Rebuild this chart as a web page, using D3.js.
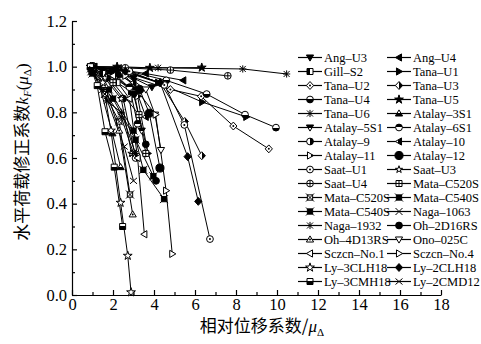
<!DOCTYPE html>
<html>
<head>
<meta charset="utf-8">
<script src="https://cdn.jsdelivr.net/npm/d3@7"></script>
<style>
  body { margin: 0; background: #fff; }
  svg { display: block; }
  .axis path, .axis line { stroke: #000; stroke-width: 1.2; }
  .axis text { font-family: 'Liberation Serif', 'Times New Roman', serif; font-size: 16.5px; fill: #000; }
  .legend text { font-family: 'Liberation Serif', 'Times New Roman', serif; font-size: 12.5px; fill: #000; }
  .cjk { font-family: 'Noto Sans CJK SC', serif; }
</style>
</head>
<body>
<script>
const WIDTH = 481;
const HEIGHT = 344;
const PLOT = { left: 72, right: 441, top: 21, bottom: 295 };

const xTicks = [0, 2, 4, 6, 8, 10, 12, 14, 16, 18];
const yTicks = [0, 0.2, 0.4, 0.6, 0.8, 1.0, 1.2];

// series names in legend order
const names = [
  'Ang-U3', 'Ang-U4', 'Gill-S2', 'Tana-U1', 'Tana-U2', 'Tana-U3', 'Tana-U4', 'Tana-U5',
  'Tana-U6', 'Atalay-3S1', 'Atalay-5S1', 'Atalay-6S1', 'Atalay-9', 'Atalay-10', 'Atalay-11',
  'Atalay-12', 'Saat-U1', 'Saat-U3', 'Saat-U4', 'Mata-C520S', 'Mata-C520S', 'Mata-C540S',
  'Mata-C540S', 'Naga-1063', 'Naga-1932', 'Oh-2D16RS', 'Oh-4D13RS', 'Ono-025C',
  'Sczcn-No.1', 'Sczcn-No.4', 'Ly-3CLH18', 'Ly-2CLH18', 'Ly-3CMH18', 'Ly-2CMD12'
];

// marker per series: [shape, fill]
const markers = [
  ['triD', 'full'], ['triL', 'full'], ['square', 'halfL'], ['triR', 'full'], ['diamond', 'dot'],
  ['diamond', 'halfR'], ['circle', 'halfB'], ['star', 'full'], ['burst', 'none'], ['triU', 'halfB'],
  ['triD', 'halfT'], ['circle', 'halfT'], ['circle', 'halfR'], ['triL', 'halfR'], ['triR', 'halfR'],
  ['bigcircle', 'full'], ['circle', 'dot'], ['smallstar', 'none'], ['circle', 'plus'], ['square', 'cross'],
  ['xbox', 'none'], ['xbox', 'full'], ['xbox', 'full'], ['xbar', 'none'], ['asterisk', 'none'],
  ['circle', 'full'], ['triU', 'dot'], ['triD', 'none'], ['triL', 'none'], ['triR', 'none'],
  ['star', 'none'], ['diamond', 'full'], ['square', 'halfB'], ['x', 'none']
];

// x = displacement ratio, y = load correction factor
const values = [
  [[0.95, 1.0], [2.0, 0.98], [3.0, 0.95], [3.9, 0.91]],
  [[1.0, 1.0], [2.1, 0.99], [3.6, 0.97], [5.43, 0.94]],
  [[0.9, 1.0], [1.5, 0.97], [2.2, 0.93], [2.9, 0.89]],
  [[1.0, 1.0], [2.5, 0.98], [4.2, 0.93], [6.35, 0.845], [8.5, 0.78]],
  [[1.0, 1.0], [2.4, 0.97], [4.8, 0.9], [6.3, 0.87], [7.87, 0.74], [9.6, 0.64]],
  [[1.0, 1.0], [2.6, 0.98], [4.3, 0.93], [5.5, 0.76], [6.33, 0.61]],
  [[1.0, 1.0], [2.8, 0.98], [4.6, 0.94], [6.57, 0.88], [8.44, 0.79], [9.95, 0.733]],
  [[1.0, 1.0], [2.2, 1.0], [3.8, 0.995], [6.33, 0.996]],
  [[1.0, 1.0], [2.4, 0.995], [4.2, 0.995], [8.33, 0.99], [10.47, 0.968]],
  [[0.9, 1.0], [1.3, 0.93], [1.97, 0.708], [2.37, 0.56]],
  [[1.0, 0.99], [1.8, 0.96], [3.0, 0.9], [3.4, 0.72]],
  [[1.0, 1.0], [1.9, 0.97], [2.8, 0.91], [3.2, 0.75]],
  [[1.0, 0.99], [1.7, 0.95], [2.5, 0.86], [3.1, 0.6]],
  [[1.1, 1.0], [2.1, 0.97], [3.0, 0.93], [3.6, 0.78]],
  [[1.0, 1.0], [2.2, 0.96], [3.2, 0.87], [3.7, 0.62]],
  [[1.0, 1.0], [2.3, 0.97], [3.3, 0.9], [3.77, 0.796], [4.29, 0.556]],
  [[1.0, 1.0], [2.8, 0.98], [4.5, 0.92], [5.48, 0.745], [6.73, 0.245]],
  [[0.9, 0.99], [1.6, 0.95], [2.4, 0.86], [2.9, 0.62]],
  [[1.0, 1.0], [2.6, 0.995], [4.8, 0.985], [7.6, 0.96]],
  [[1.0, 0.99], [2.0, 0.93], [3.27, 0.79], [3.6, 0.62]],
  [[0.95, 0.98], [1.6, 0.88], [2.3, 0.76], [2.83, 0.44]],
  [[1.0, 0.98], [1.8, 0.9], [3.0, 0.72], [3.48, 0.548], [4.49, 0.42]],
  [[1.0, 0.97], [2.0, 0.86], [3.1, 0.68], [3.97, 0.52]],
  [[0.9, 0.99], [1.5, 0.9], [2.4, 0.78], [3.0, 0.62]],
  [[1.0, 0.98], [1.7, 0.85], [2.4, 0.8], [3.1, 0.62]],
  [[1.0, 1.0], [2.0, 0.97], [3.0, 0.88], [3.6, 0.66], [4.1, 0.5]],
  [[1.0, 1.0], [1.6, 0.92], [2.3, 0.72], [2.96, 0.353]],
  [[1.0, 1.0], [2.5, 0.97], [3.6, 0.9], [4.05, 0.79], [4.34, 0.635]],
  [[1.0, 1.0], [2.0, 0.96], [2.8, 0.86], [3.2, 0.6], [3.53, 0.266]],
  [[1.0, 1.0], [2.6, 0.96], [4.08, 0.79], [4.59, 0.457], [4.89, 0.18]],
  [[0.9, 1.0], [1.5, 0.93], [1.9, 0.72], [2.37, 0.404], [2.72, 0.172], [2.88, 0.012]],
  [[1.0, 1.0], [2.6, 0.98], [4.3, 0.93], [5.64, 0.606], [6.16, 0.41]],
  [[0.9, 1.0], [1.23, 0.917], [1.61, 0.715], [2.06, 0.56], [2.47, 0.3]],
  [[1.0, 0.99], [1.6, 0.88], [2.55, 0.65], [3.0, 0.5]]
];

const svg = d3.select('body').append('svg')
  .attr('width', WIDTH).attr('height', HEIGHT);
svg.append('rect').attr('width', WIDTH).attr('height', HEIGHT).attr('fill', '#fff');

// hard-stop gradients for half filled markers
const defs = svg.append('defs');
[['halfL', 0, 0, 1, 0], ['halfR', 1, 0, 0, 0], ['halfT', 0, 0, 0, 1], ['halfB', 0, 1, 0, 0]]
  .forEach(([id, x1, y1, x2, y2]) => {
    const g = defs.append('linearGradient').attr('id', id)
      .attr('x1', x1).attr('y1', y1).attr('x2', x2).attr('y2', y2);
    g.append('stop').attr('offset', '50%').attr('stop-color', '#000');
    g.append('stop').attr('offset', '50%').attr('stop-color', '#fff');
  });

const x = d3.scaleLinear().domain([0, 18]).range([PLOT.left, PLOT.right]);
const y = d3.scaleLinear().domain([0, 1.2]).range([PLOT.bottom, PLOT.top]);

// minor ticks
svg.append('g').attr('class', 'axis')
  .attr('transform', 'translate(0,' + PLOT.bottom + ')')
  .call(d3.axisBottom(x).tickValues(d3.range(1, 18, 2)).tickSize(-3).tickFormat(''))
  .select('.domain').remove();
svg.append('g').attr('class', 'axis')
  .attr('transform', 'translate(' + PLOT.left + ',0)')
  .call(d3.axisLeft(y).tickValues(d3.range(0.1, 1.2, 0.2)).tickSize(-3).tickFormat(''))
  .select('.domain').remove();

// main axes
svg.append('g').attr('class', 'axis')
  .attr('transform', 'translate(0,' + PLOT.bottom + ')')
  .call(d3.axisBottom(x).tickValues(xTicks).tickSizeInner(-5).tickSizeOuter(0).tickPadding(3).tickFormat(d3.format('d')));
svg.append('g').attr('class', 'axis')
  .attr('transform', 'translate(' + PLOT.left + ',0)')
  .call(d3.axisLeft(y).tickValues(yTicks).tickSizeInner(-5).tickSizeOuter(0).tickPadding(5).tickFormat(d3.format('.1f')));

function markerPath(shape) {
  const r = 3.6;
  switch (shape) {
    case 'triD': return 'M' + -r + ',' + -r * 0.7 + 'L' + r + ',' + -r * 0.7 + 'L0,' + r + 'Z';
    case 'triU': return 'M' + -r + ',' + r * 0.7 + 'L' + r + ',' + r * 0.7 + 'L0,' + -r + 'Z';
    case 'triL': return 'M' + r * 0.7 + ',' + -r + 'L' + r * 0.7 + ',' + r + 'L' + -r + ',0Z';
    case 'triR': return 'M' + -r * 0.7 + ',' + -r + 'L' + -r * 0.7 + ',' + r + 'L' + r + ',0Z';
    case 'square': return d3.symbol(d3.symbolSquare, 36)();
    case 'diamond': return 'M0,' + -r * 1.1 + 'L' + r + ',0L0,' + r * 1.1 + 'L' + -r + ',0Z';
    case 'circle': return d3.symbol(d3.symbolCircle, 36)();
    case 'bigcircle': return d3.symbol(d3.symbolCircle, 52)();
    case 'star': return d3.symbol(d3.symbolStar, 24)();
    case 'smallstar': return d3.symbol(d3.symbolStar, 16)();
    case 'xbox': return d3.symbol(d3.symbolSquare, 28)();
    default: return null;
  }
}

function drawMarker(g, shape, fill) {
  const r = 3.6;
  const line = (d) => g.append('path').attr('d', d).attr('stroke', '#000').attr('stroke-width', 1).attr('fill', 'none');
  if (shape === 'burst' || shape === 'asterisk') {
    line('M' + -r + ',0L' + r + ',0M0,' + -r + 'L0,' + r + 'M-3,-3L3,3M-3,3L3,-3');
    return;
  }
  if (shape === 'x') {
    line('M-3.5,-3L3.5,3M-3.5,3L3.5,-3');
    return;
  }
  if (shape === 'xbar') {
    line('M-3.5,-3.5L3.5,3.5M-3.5,3.5L3.5,-3.5M-3.5,0L3.5,0');
    return;
  }
  let f = '#fff';
  if (fill === 'full') f = '#000';
  else if (fill.startsWith('half')) f = 'url(#' + fill + ')';
  g.append('path').attr('d', markerPath(shape))
    .attr('fill', f).attr('stroke', '#000').attr('stroke-width', 1);
  if (shape === 'xbox') line('M-4,-4L4,4M-4,4L4,-4');
  if (fill === 'dot') g.append('circle').attr('r', 1).attr('fill', '#000');
  if (fill === 'plus' || fill === 'cross') line('M-3,0L3,0M0,-3L0,3');
}

// series lines and markers
const lineGen = d3.line().x((d) => x(d[0])).y((d) => y(d[1]));
const gData = svg.append('g');
values.forEach((pts) => {
  gData.append('path').attr('d', lineGen(pts))
    .attr('fill', 'none').attr('stroke', '#000').attr('stroke-width', 1);
});
values.forEach((pts, i) => {
  pts.forEach((p) => {
    const g = gData.append('g').attr('transform', 'translate(' + x(p[0]) + ',' + y(p[1]) + ')');
    drawMarker(g, markers[i][0], markers[i][1]);
  });
});

// legend in two columns
const gLegend = svg.append('g').attr('class', 'legend');
names.forEach((name, i) => {
  const col = i % 2;
  const row = Math.floor(i / 2);
  const lx = col === 0 ? 298 : 387;
  const ly = 57.5 + row * 14;
  gLegend.append('line').attr('x1', lx).attr('x2', lx + 24).attr('y1', ly).attr('y2', ly)
    .attr('stroke', '#000').attr('stroke-width', 1.2);
  const g = gLegend.append('g').attr('transform', 'translate(' + (lx + 12) + ',' + ly + ')');
  drawMarker(g, markers[i][0], markers[i][1]);
  gLegend.append('text').attr('x', lx + 26).attr('y', ly + 4.5).text(name.replace('-', '\u2013'));
});

// axis titles
const yTitle = svg.append('text')
  .attr('transform', 'translate(28,' + 152 + ') rotate(-90)')
  .attr('text-anchor', 'middle')
  .style('font-size', '17px').style('font-family', "'Liberation Serif', serif");
yTitle.append('tspan').attr('class', 'cjk').text('水平荷载修正系数');
yTitle.append('tspan').style('font-style', 'italic').text('k');
yTitle.append('tspan').style('font-style', 'italic').style('font-size', '11px').attr('dy', 3).text('F');
yTitle.append('tspan').attr('dy', -3).text('(');
yTitle.append('tspan').style('font-style', 'italic').text('μ');
yTitle.append('tspan').style('font-size', '11px').attr('dy', 3).text('Δ');
yTitle.append('tspan').attr('dy', -3).text(')');

const xTitle = svg.append('text')
  .attr('x', 262).attr('y', 332)
  .attr('text-anchor', 'middle')
  .style('font-size', '17px').style('font-family', "'Liberation Serif', serif");
xTitle.append('tspan').attr('class', 'cjk').text('相对位移系数/');
xTitle.append('tspan').style('font-style', 'italic').text('μ');
xTitle.append('tspan').style('font-size', '11px').attr('dy', 4).text('Δ');
</script>
</body>
</html>
